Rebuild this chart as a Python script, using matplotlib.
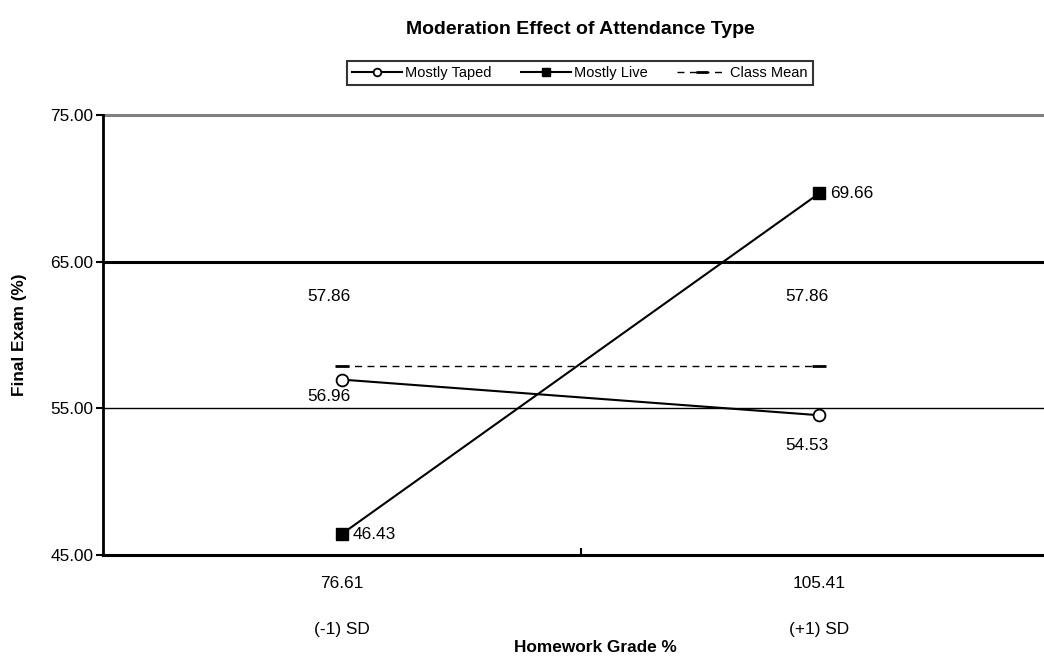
import matplotlib.pyplot as plt
from matplotlib.lines import Line2D

plt.rcParams['font.family'] = ['Liberation Sans', 'DejaVu Sans']

# two moderator levels of homework grade
hw_values = ['76.61', '105.41']
sd_labels = ['(-1) SD', '(+1) SD']
taped = [56.96, 54.53]
live = [46.43, 69.66]
class_mean = [57.86, 57.86]
y_ticks = [45, 55, 65, 75]

FS = 12.4

fig = plt.figure(figsize=(10.44, 6.6), dpi=100, facecolor='white')
# right edge of the plotting area runs past the canvas
ax = fig.add_axes([103 / 1044, 105 / 660, 941 / 1044, 440 / 660])
xpos = [0.5, 1.5]
ax.set_xlim(0, (1044 - 104) / 477)
ax.set_ylim(45, 75)

# horizontal gridlines of varying weight
ax.axhline(65, color='black', lw=2.2, zorder=1)
ax.axhline(55, color='black', lw=1.0, zorder=1)
ax.axhline(75, color='#808080', lw=2.2, zorder=1, clip_on=False)

for s in ['top', 'right']:
    ax.spines[s].set_visible(False)
ax.spines['left'].set_linewidth(2)
ax.spines['bottom'].set_linewidth(2.2)

ax.plot(xpos, class_mean, color='black', lw=1, ls=(0, (5, 4)), marker='_', ms=10, mew=2, zorder=3)
ax.plot(xpos, taped, color='black', lw=1.5, marker='o', ms=8.5, mfc='white', mec='black', mew=1.3, zorder=4)
ax.plot(xpos, live, color='black', lw=1.5, marker='s', ms=8.5, mfc='black', mec='black', zorder=4)

# value labels
for x, v in zip(xpos, class_mean):
    ax.annotate(f'{v:.2f}', (x, v), xytext=(-9, 50), textcoords='offset points', ha='center', va='center', fontsize=FS)
for x, v, dy in zip(xpos, taped, [-12, -22]):
    ax.annotate(f'{v:.2f}', (x, v), xytext=(-9, dy), textcoords='offset points', ha='center', va='center', fontsize=FS)
for x, v in zip(xpos, live):
    ax.annotate(f'{v:.2f}', (x, v), xytext=(8, 0), textcoords='offset points', ha='left', va='center', fontsize=FS)

ax.set_yticks(y_ticks)
ax.set_yticklabels([f'{t:.2f}' for t in y_ticks], fontsize=FS)
ax.tick_params(axis='y', length=5, width=1.5, direction='out', pad=2)
ax.set_xticks([1.0])
ax.set_xticklabels([''])
ax.tick_params(axis='x', length=5, width=1.5, direction='in')

for x, hv, sd in zip(xpos, hw_values, sd_labels):
    ax.text(x, -0.065, hv, transform=ax.get_xaxis_transform(), ha='center', va='center', fontsize=FS)
    ax.text(x, -0.17, sd, transform=ax.get_xaxis_transform(), ha='center', va='center', fontsize=FS)

fig.text(595 / 1044, 1 - 648 / 660, 'Homework Grade %', ha='center', va='center', fontsize=FS, weight='bold')
fig.text(20 / 1044, 1 - 335 / 660, 'Final Exam (%)', ha='center', va='center', rotation=90, fontsize=FS, weight='bold')
fig.text(580 / 1044, 1 - 30 / 660, 'Moderation Effect of Attendance Type', ha='center', va='center', fontsize=14, weight='bold')

handles = [
    Line2D([], [], color='black', lw=1.5, marker='o', ms=5.5, mfc='white', mec='black', mew=1.3),
    Line2D([], [], color='black', lw=1.5, marker='s', ms=6, mfc='black'),
    Line2D([], [], color='black', lw=1, ls=(0, (5, 4)), marker='_', ms=8, mew=2),
]
leg = fig.legend(handles, ['Mostly Taped', 'Mostly Live', 'Class Mean'], loc='center',
                 bbox_to_anchor=(580 / 1044, 1 - 73 / 660), ncol=3, fontsize=10.5, frameon=True,
                 fancybox=False, handlelength=3.4, handletextpad=0.25, columnspacing=2.0,
                 borderpad=0.35, edgecolor='black')
leg.get_frame().set_linewidth(1.5)

fig.savefig('out.png', dpi=100, facecolor='white')
